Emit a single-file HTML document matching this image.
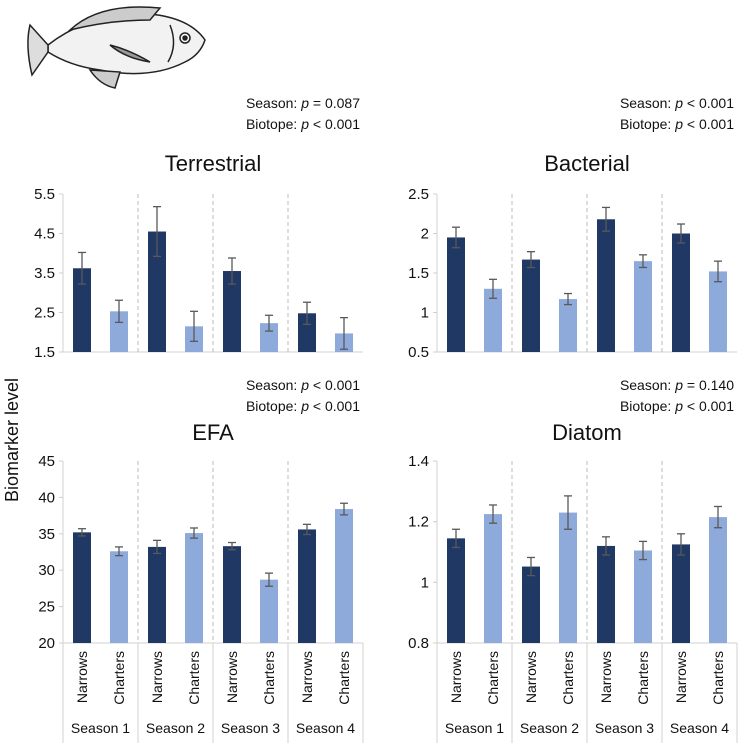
<!DOCTYPE html>
<html><head><meta charset="utf-8"><style>
body{margin:0;background:#fff;width:752px;height:746px;overflow:hidden;font-family:"Liberation Sans",sans-serif}
</style></head><body>
<svg id="c" width="752" height="746" viewBox="0 0 752 746" xmlns="http://www.w3.org/2000/svg">
<g stroke="#222" stroke-width="1.5" fill="#f2f2f2">
<path d="M48 45 Q90 12 150 14 Q190 18 205 40 Q200 55 185 62 Q150 80 100 70 Q70 66 48 52 Z"/>
<path d="M48 45 L30 25 Q25 45 32 75 L48 52 Z" fill="#ddd"/>
<path d="M70 30 Q100 2 160 8 L150 20 Q110 20 70 30 Z" fill="#ccc"/>
<path d="M110 45 Q130 50 150 62 Q125 58 110 45 Z" fill="#999"/>
<path d="M90 70 Q100 85 115 88 L120 72 Z" fill="#ccc"/>
<circle cx="185" cy="38" r="5" fill="#fff"/><circle cx="185" cy="38" r="2" fill="#222"/>
<path d="M170 25 Q178 45 168 62" fill="none"/>
</g>
</svg>
<script>
const seasons=["Season 1","Season 2","Season 3","Season 4"];
const biotopes=["Narrows","Charters"];
const terrN=[3.62,4.55,3.55,2.48], terrC=[2.53,2.15,2.23,1.97];
const terrNe=[0.4,0.63,0.33,0.28], terrCe=[0.28,0.38,0.2,0.4];
const bactN=[1.95,1.67,2.18,2.0], bactC=[1.3,1.17,1.65,1.52];
const bactNe=[0.13,0.1,0.15,0.12], bactCe=[0.12,0.07,0.08,0.13];
const efaN=[35.2,33.2,33.3,35.6], efaC=[32.6,35.1,28.7,38.4];
const efaNe=[0.5,0.9,0.5,0.7], efaCe=[0.6,0.7,0.9,0.8];
const diaN=[1.145,1.052,1.12,1.125], diaC=[1.225,1.23,1.105,1.215];
const diaNe=[0.03,0.03,0.03,0.035], diaCe=[0.03,0.055,0.03,0.035];
const terrTicks=["1.5","2.5","3.5","4.5","5.5"];
const bactTicks=["0.5","1","1.5","2","2.5"];
const efaTicks=["20","25","30","35","40","45"];
const diaTicks=["0.8","1","1.2","1.4"];
const svg=document.getElementById('c');const NS="http://www.w3.org/2000/svg";
function el(t,a,p){const e=document.createElementNS(NS,t);for(const k in a)e.setAttribute(k,a[k]);(p||svg).appendChild(e);return e;}
function txt(s,a,p){const e=el('text',a,p);e.textContent=s;return e;}
const panels=[
 {name:"terrestrial",title:"Terrestrial",x0:63,top:194,bot:352,ticks:terrTicks,N:terrN,C:terrC,Ne:terrNe,Ce:terrCe,s1:"0.087",s1op:"=",s2op:"<",s2:"0.001",sy:108,ty:163,cats:false},
 {name:"bacterial",title:"Bacterial",x0:437,top:194,bot:352,ticks:bactTicks,N:bactN,C:bactC,Ne:bactNe,Ce:bactCe,s1:"0.001",s1op:"<",s2op:"<",s2:"0.001",sy:108,ty:163,cats:false},
 {name:"efa",title:"EFA",x0:63,top:461,bot:643,ticks:efaTicks,N:efaN,C:efaC,Ne:efaNe,Ce:efaCe,s1:"0.001",s1op:"<",s2op:"<",s2:"0.001",sy:390,ty:432,cats:true},
 {name:"diatom",title:"Diatom",x0:437,top:461,bot:643,ticks:diaTicks,N:diaN,C:diaC,Ne:diaNe,Ce:diaCe,s1:"0.140",s1op:"=",s2op:"<",s2:"0.001",sy:390,ty:432,cats:true}
];
panels.forEach(p=>{
 const g=el('g',{});
 
 
 const lo=parseFloat(p.ticks[0]),hi=parseFloat(p.ticks[p.ticks.length-1]);
 const y=v=>p.bot-(v-lo)/(hi-lo)*(p.bot-p.top);
 const gw=75;
 const t=txt(p.title,{x:p.x0+150,y:p.ty+8,'text-anchor':'middle','font-size':22,fill:'#111'},g);
 
 const st=el('text',{x:p.x0+297,y:p.sy,'text-anchor':'end','font-size':14,fill:'#111'},g);
 st.innerHTML='Season: <tspan font-style="italic">p</tspan> '+p.s1op+' '+p.s1;
 
 const st2=el('text',{x:p.x0+297,y:p.sy+21,'text-anchor':'end','font-size':14,fill:'#111'},g);
 st2.innerHTML='Biotope: <tspan font-style="italic">p</tspan> '+p.s2op+' '+p.s2;
 
 el('line',{x1:p.x0,y1:p.top,x2:p.x0,y2:p.bot,stroke:'#d0d0d0'},g);
 p.ticks.forEach(tk=>{const v=parseFloat(tk);
  el('line',{x1:p.x0-4,y1:y(v),x2:p.x0,y2:y(v),stroke:'#d0d0d0'},g);
  const l=txt(tk,{x:p.x0-8,y:y(v)+5,'text-anchor':'end','font-size':15,fill:'#111'},g);
  });
 el('line',{x1:p.x0,y1:p.bot,x2:p.x0+4*gw,y2:p.bot,stroke:'#d0d0d0'},g);
 for(let i=1;i<4;i++)el('line',{x1:p.x0+i*gw,y1:p.top,x2:p.x0+i*gw,y2:p.bot,stroke:'#bbb','stroke-dasharray':'4,3'},g);
 seasons.forEach((s,i)=>{
  [[p.N,p.Ne,'#1f3864',10],[p.C,p.Ce,'#8eaadb',47]].forEach(([vals,errs,col,off],j)=>{
   const v=vals[i],e=errs[i],bx=p.x0+i*gw+off;
   const r=el('rect',{x:bx,y:y(v),width:18,height:p.bot-y(v),fill:col},g);
   
   
   const cx=bx+9;
   el('line',{x1:cx,y1:y(v+e),x2:cx,y2:y(v-e),stroke:'#595959','stroke-width':1.3},g);
   el('line',{x1:cx-4,y1:y(v+e),x2:cx+4,y2:y(v+e),stroke:'#595959','stroke-width':1.3},g);
   el('line',{x1:cx-4,y1:y(v-e),x2:cx+4,y2:y(v-e),stroke:'#595959','stroke-width':1.3},g);
   if(p.cats){
    const bl=txt(biotopes[j],{x:0,y:0,'text-anchor':'end','font-size':14,fill:'#111',transform:`translate(${cx+5},${p.bot+8}) rotate(-90)`},g);
    
   }
  });
  if(p.cats){
   const sl=txt(s,{x:p.x0+i*gw+gw/2,y:p.bot+90,'text-anchor':'middle','font-size':14,fill:'#111'},g);
   
  }
 });
 if(p.cats)for(let i=0;i<=4;i++)el('line',{x1:p.x0+i*gw,y1:p.bot,x2:p.x0+i*gw,y2:p.bot+100,stroke:'#d0d0d0'},g);
});
const yl=txt("Biomarker level",{x:0,y:0,'text-anchor':'middle','font-size':18,fill:'#111',transform:'translate(18,440) rotate(-90)'});


</script>
</body></html>
